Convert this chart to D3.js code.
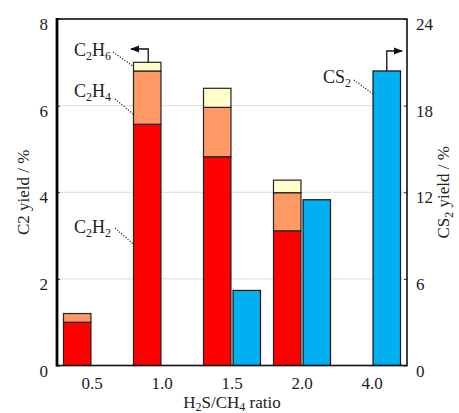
<!DOCTYPE html>
<html>
<head>
<meta charset="utf-8">
<script src="https://cdnjs.cloudflare.com/ajax/libs/d3/7.8.5/d3.min.js"></script>
<style>
  body { margin: 0; background: #fff; }
  svg { display: block; }
  text { font-family: 'Liberation Serif', 'Times New Roman', serif; fill: #222; }
  .tick text { font-size: 17px; }
</style>
</head>
<body>
<svg id="chart" width="459" height="413"></svg>
<script>

// data
var ratios = ["0.5", "1.0", "1.5", "2.0", "4.0"];
var c2h2 = [1.0, 5.57, 4.82, 3.11, 0];
var c2h4 = [0.2, 1.23, 1.14, 0.88, 0];
var c2h6 = [0, 0.2, 0.44, 0.29, 0];
var cs2 = [0, 0, 5.2, 11.48, 20.4];
var leftTicks = [0, 2, 4, 6, 8];
var rightTicks = [0, 6, 12, 18, 24];

var colors = { c2h2: "#ff0000", c2h4: "#ff9966", c2h6: "#ffffcc", cs2: "#00b0f0" };

var svg = d3.select("#chart");
var pLeft = 57, pRight = 407, pTop = 19, pBottom = 365.5;

var x = d3.scaleBand().domain(ratios).range([pLeft, pRight]);
var xs = d3.scaleBand().domain(["c2", "cs2"]).range([0, x.bandwidth()])
  .paddingInner(0.07).paddingOuter(0.22);
var yL = d3.scaleLinear().domain([0, 8]).range([pBottom, pTop]);
var yR = d3.scaleLinear().domain([0, 24]).range([pBottom, pTop]);

// gridlines
svg.append("g").selectAll("line")
  .data(leftTicks.slice(1, -1))
  .join("line")
  .attr("x1", pLeft).attr("x2", pRight)
  .attr("y1", d => yL(d)).attr("y2", d => yL(d))
  .attr("stroke", "#dcdcdc").attr("stroke-width", 1);

// stacked C2 bars
var rows = ratios.map((r, i) => ({ ratio: r, c2h2: c2h2[i], c2h4: c2h4[i], c2h6: c2h6[i] }));
var stack = d3.stack().keys(["c2h2", "c2h4", "c2h6"])(rows);

svg.append("g").selectAll("g")
  .data(stack)
  .join("g")
  .attr("fill", d => colors[d.key])
  .selectAll("rect")
  .data(d => d.filter(s => s[1] - s[0] > 0))
  .join("rect")
  .attr("x", d => x(d.data.ratio) + xs("c2"))
  .attr("y", d => yL(d[1]))
  .attr("width", xs.bandwidth())
  .attr("height", d => yL(d[0]) - yL(d[1]))
  .attr("stroke", "#222").attr("stroke-width", 1.2);

// CS2 bars
svg.append("g").selectAll("rect")
  .data(ratios.map((r, i) => ({ ratio: r, v: cs2[i] })).filter(d => d.v > 0))
  .join("rect")
  .attr("x", d => x(d.ratio) + xs("cs2"))
  .attr("y", d => yR(d.v))
  .attr("width", xs.bandwidth())
  .attr("height", d => pBottom - yR(d.v))
  .attr("fill", colors.cs2)
  .attr("stroke", "#111").attr("stroke-width", 1.2);

// axes
var axL = svg.append("g").attr("transform", "translate(" + pLeft + ",0)")
  .call(d3.axisLeft(yL).tickValues(leftTicks).tickSize(-3).tickPadding(9));
var axR = svg.append("g").attr("transform", "translate(" + pRight + ",0)")
  .call(d3.axisRight(yR).tickValues(rightTicks).tickSize(-3).tickPadding(9));
var axB = svg.append("g").attr("transform", "translate(0," + pBottom + ")")
  .call(d3.axisBottom(x).tickSize(0).tickPadding(11));
[axL, axR, axB].forEach(a => {
  a.attr("font-family", null).attr("font-size", null);
  a.select(".domain").remove();
  a.selectAll(".tick line").attr("stroke", "#333");
});
axL.selectAll(".tick text").attr("dy", "0.62em");
axR.selectAll(".tick text").attr("dy", "0.62em");

// frame
svg.append("rect").attr("x", pLeft).attr("y", pTop)
  .attr("width", pRight - pLeft).attr("height", pBottom - pTop)
  .attr("fill", "none").attr("stroke", "#111").attr("stroke-width", 1.6);
svg.append("line").attr("x1", pLeft).attr("x2", pLeft).attr("y1", pTop - 1).attr("y2", pBottom + 1)
  .attr("stroke", "#000").attr("stroke-width", 2.8);

// text with subscripts: [text, isSub, backUp]
function sub(t, parts, shift) {
  shift = shift || 4;
  parts.forEach(p => {
    if (p[1]) t.append("tspan").attr("font-size", 12).attr("dy", shift).text(p[0]);
    else if (p[2]) t.append("tspan").attr("dy", -shift).text(p[0]);
    else t.append("tspan").text(p[0]);
  });
}

// axis titles
var tl = svg.append("text").attr("transform", "translate(29," + ((pTop + pBottom) / 2) + ") rotate(-90)")
  .attr("text-anchor", "middle").attr("font-size", 17);
sub(tl, [["C2 yield / %"]]);

var tr = svg.append("text").attr("transform", "translate(449," + ((pTop + pBottom) / 2) + ") rotate(-90)")
  .attr("text-anchor", "middle").attr("font-size", 17);
sub(tr, [["CS"], ["2", 1], [" yield / %", 0, 1]]);

var tb = svg.append("text").attr("x", (pLeft + pRight) / 2).attr("y", 408)
  .attr("text-anchor", "middle").attr("font-size", 17);
sub(tb, [["H"], ["2", 1], ["S/CH", 0, 1], ["4", 1], [" ratio", 0, 1]], 3);

// annotations
var bar1 = x("1.0") + xs("c2");
var bar4 = x("4.0") + xs("cs2");
var notes = [
  { parts: [["C"], ["2", 1], ["H", 0, 1], ["6", 1]], tx: 74, ty: 56, x1: 113, y1: 52, x2: bar1, y2: yL(6.9) },
  { parts: [["C"], ["2", 1], ["H", 0, 1], ["4", 1]], tx: 74, ty: 97, x1: 115, y1: 99, x2: bar1, y2: yL(5.8) },
  { parts: [["C"], ["2", 1], ["H", 0, 1], ["2", 1]], tx: 74, ty: 233, x1: 115, y1: 228, x2: bar1, y2: yL(2.8) },
  { parts: [["CS"], ["2", 1]], tx: 323, ty: 83, x1: 354, y1: 80, x2: bar4, y2: yR(18.8) }
];
notes.forEach(n => {
  var t = svg.append("text").attr("x", n.tx).attr("y", n.ty).attr("font-size", 18);
  sub(t, n.parts);
  svg.append("line").attr("x1", n.x1).attr("y1", n.y1).attr("x2", n.x2).attr("y2", n.y2)
    .attr("stroke", "#222").attr("stroke-width", 1.2).attr("stroke-dasharray", "1.2,1.6");
});

// arrows pointing to the axis used
svg.append("defs").append("marker")
  .attr("id", "head").attr("viewBox", "0 0 10 10").attr("refX", 9).attr("refY", 5)
  .attr("markerWidth", 7).attr("markerHeight", 7).attr("orient", "auto")
  .append("path").attr("d", "M0,1L10,5L0,9Z").attr("fill", "#111");

var cx1 = bar1 + xs.bandwidth() / 2 + 1;
var top1 = yL(c2h2[1] + c2h4[1] + c2h6[1]);
svg.append("path")
  .attr("d", d3.line()([[cx1, top1], [cx1, 49], [131, 49]]))
  .attr("fill", "none").attr("stroke", "#111").attr("stroke-width", 1.3)
  .attr("marker-end", "url(#head)");

var cx4 = bar4 + xs.bandwidth() / 2;
svg.append("path")
  .attr("d", d3.line()([[cx4, yR(cs2[4])], [cx4, 51], [402, 51]]))
  .attr("fill", "none").attr("stroke", "#111").attr("stroke-width", 1.3)
  .attr("marker-end", "url(#head)");

</script>
</body>
</html>
